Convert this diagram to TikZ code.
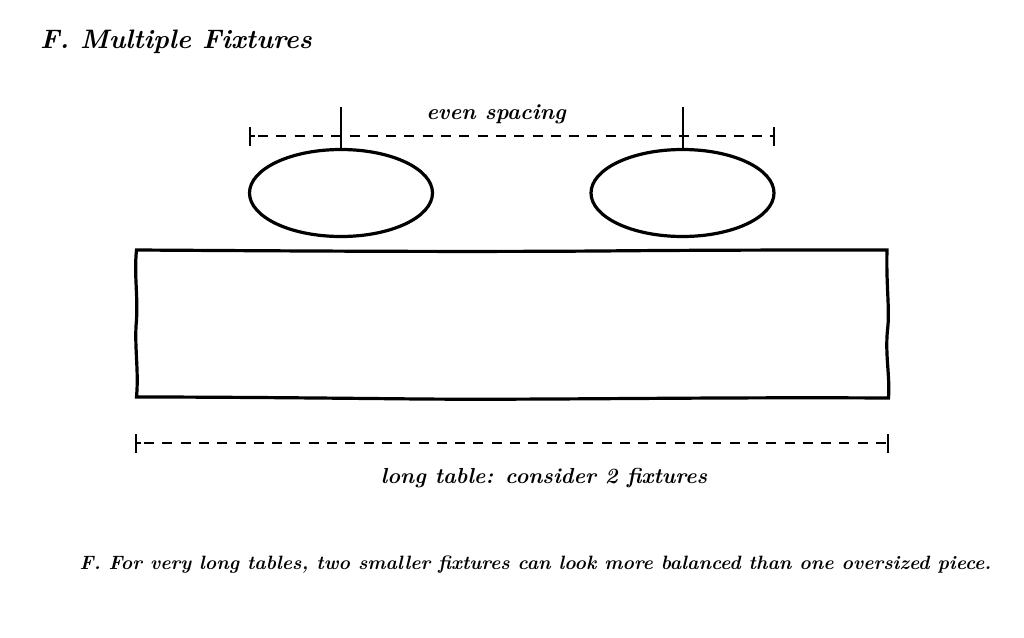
\documentclass[tikz,border=0pt]{standalone}
\usetikzlibrary{shapes.geometric}
\begin{document}
\begin{tikzpicture}
   [  x=1pt, y=-1pt,
      base/.style={draw=black, line width=3.2pt},
      fixture/.style={base, ellipse, minimum width=183pt, minimum height=87pt, inner sep=0pt},
      stem/.style={draw=black, line width=2pt},
      dimLine/.style={draw=black, line width=2pt, dash pattern=on 10pt off 8.3pt},
      tick/.style={draw=black, line width=2pt},
      texty/.style={inner sep=0pt, text=black, font=\itshape\bfseries}]
\useasboundingbox (0,0) rectangle (1024,637);
% ============ title ============
\node[texty, anchor=west] (title) at (40,41.5) {\fontsize{26.7}{30}\selectfont F. Multiple Fixtures};

% ============ fixtures ============
\node[fixture] (f1) at (341,193) {};
\node[fixture] (f2) at (682.5,193) {};
\coordinate (s1) at (341,107);
\coordinate (s2) at (682.5,107);
\draw[stem] (s1) -- (f1.north);
\draw[stem] (s2) -- (f2.north);

% ============ spacing ============
\coordinate (a0) at (258,136);
\coordinate (a1) at (774,136);
\draw[dimLine] (a0) -- (a1);
\draw[tick] (250,127) -- (250,146);
\draw[tick] (250,136) -- (255,136);
\draw[tick] (774,127) -- (774,146);
\node[texty] (evenLabel) at (496,114) {\fontsize{22}{25}\selectfont even spacing};

% ============ table ============
\draw[base, line join=miter]
   (136.5,250) .. controls (300,251) and (450,252) .. (600,251)
   .. controls (700,250) and (800,250) .. (887,250)
   .. controls (886,285) and (890,310) .. (887.5,330)
   .. controls (885,355) and (890,375) .. (888.5,398)
   .. controls (700,397) and (550,400) .. (420,399)
   .. controls (320,398) and (220,397) .. (136.5,397)
   .. controls (139,370) and (134,345) .. (136.5,320)
   .. controls (138,295) and (134,275) .. (136.5,250) -- cycle;

% ============ length ============
\coordinate (b0) at (144,443);
\coordinate (b1) at (888,443);
\draw[dimLine] (b0) -- (b1);
\draw[tick] (136,434) -- (136,453);
\draw[tick] (136,443) -- (141,443);
\draw[tick] (888,434) -- (888,453);
\node[texty] (longLabel) at (544,478.5) {\fontsize{21.7}{25}\selectfont long table: consider 2 fixtures};

% ============ caption ============
\node[texty] (note) at (535.5,564.5) {\fontsize{19.3}{23}\selectfont F. For very long tables, two smaller fixtures can look more balanced than one oversized piece.};
\end{tikzpicture}
\end{document}
